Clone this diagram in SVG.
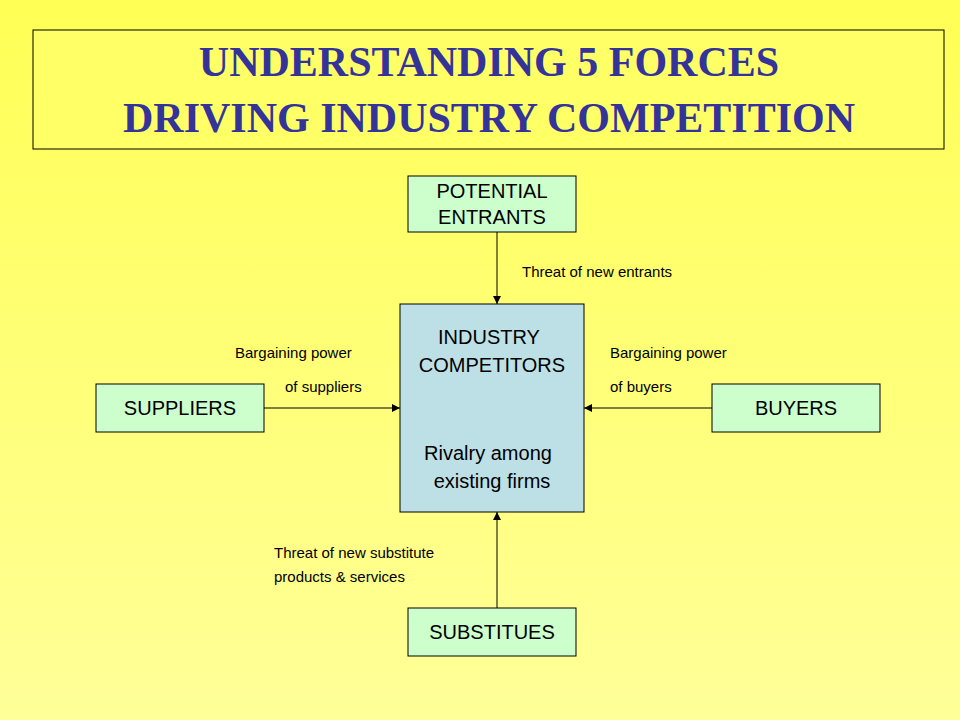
<svg xmlns="http://www.w3.org/2000/svg" width="960" height="720" viewBox="0 0 960 720">
<defs>
<linearGradient id="bg" x1="0" y1="0" x2="0" y2="1"><stop offset="0" stop-color="#ffff55"/><stop offset="1" stop-color="#ffff99"/></linearGradient>
<marker id="ar" markerWidth="8" markerHeight="8" refX="8" refY="4" orient="auto" markerUnits="userSpaceOnUse"><path d="M0,0 L8,4 L0,8 z" fill="#000"/></marker>
<style>
.b{stroke:#000;stroke-width:1}
.g{fill:#ccffcc}
.t{font-family:"Liberation Sans",Arial,sans-serif;font-size:20px;fill:#000;text-anchor:middle}
.s{font-family:"Liberation Sans",Arial,sans-serif;font-size:15px;fill:#000}
.c line{stroke:#000;stroke-width:1;marker-end:url(#ar)}
</style>
</defs>
<rect width="960" height="720" fill="url(#bg)"/>
<g id="title"><rect x="33" y="30" width="911" height="119" fill="#ffff66" class="b"/>
<text x="489" y="76" text-anchor="middle" font-family="Liberation Serif,serif" font-weight="bold" font-size="42" fill="#333399">UNDERSTANDING 5 FORCES</text>
<text x="489" y="132" text-anchor="middle" font-family="Liberation Serif,serif" font-weight="bold" font-size="42" fill="#333399">DRIVING INDUSTRY COMPETITION</text></g>
<g id="entrants"><rect x="408" y="176" width="168" height="56" class="b g"/><text class="t" x="492" y="198">POTENTIAL</text><text class="t" x="492" y="224">ENTRANTS</text></g>
<g id="industry"><rect x="400" y="304" width="184" height="208" fill="#bde0e6" class="b"/><text class="t" x="489" y="344">INDUSTRY</text><text class="t" x="492" y="372">COMPETITORS</text><text class="t" x="488" y="460">Rivalry among</text><text class="t" x="492" y="488">existing firms</text></g>
<g id="suppliers"><rect x="96" y="384" width="168" height="48" class="b g"/><text class="t" x="180" y="415">SUPPLIERS</text></g>
<g id="buyers"><rect x="712" y="384" width="168" height="48" class="b g"/><text class="t" x="796" y="415">BUYERS</text></g>
<g id="substitutes"><rect x="408" y="608" width="168" height="48" class="b g"/><text class="t" x="492" y="639">SUBSTITUES</text></g>
<g class="c" id="connectors">
<line x1="497" y1="232" x2="497" y2="304"/>
<line x1="264" y1="408" x2="400" y2="408"/>
<line x1="712" y1="408" x2="584" y2="408"/>
<line x1="497" y1="608" x2="497" y2="512"/>
</g>
<g id="labels">
<text class="s" x="522" y="277">Threat of new entrants</text>
<text class="s" x="235" y="358">Bargaining power</text>
<text class="s" x="285" y="392">of suppliers</text>
<text class="s" x="610" y="358">Bargaining power</text>
<text class="s" x="610" y="392">of buyers</text>
<text class="s" x="274" y="558">Threat of new substitute</text>
<text class="s" x="274" y="582">products &amp; services</text>
</g>
</svg>
